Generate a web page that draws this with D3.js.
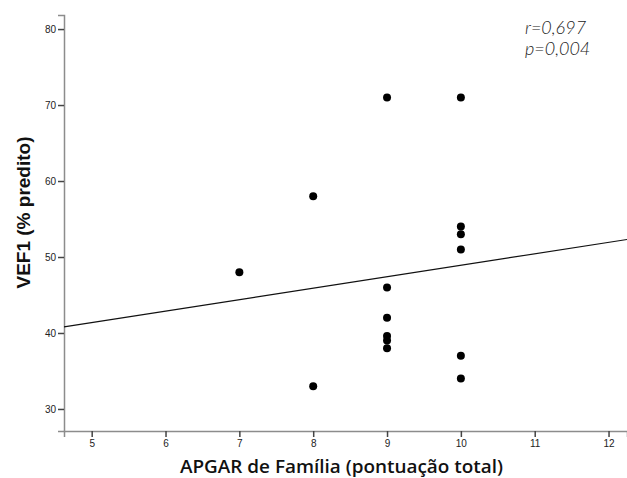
<!DOCTYPE html>
<html>
<head>
<meta charset="utf-8">
<script src="https://cdn.jsdelivr.net/npm/d3@7"></script>
<style>
  body { margin: 0; background: #fff; }
  .tick text { font-family: "Liberation Sans", Arial, sans-serif; font-size: 10px; fill: #222; }
</style>
</head>
<body>
<svg width="627" height="478"></svg>
<script>
let svg = d3.select("svg"),
    width = +svg.attr("width"),
    height = +svg.attr("height");

// APGAR score vs VEF1 (% predito)
let apgar = [7, 8, 8, 9, 9, 9, 9, 9, 9, 10, 10, 10, 10, 10, 10];
let vef1  = [48, 58, 33, 71, 46, 42, 39.6, 39, 38, 71, 54, 53, 51, 37, 34];
let xTicks = [5, 6, 7, 8, 9, 10, 11, 12];
let yTicks = [30, 40, 50, 60, 70, 80];
// fitted line (intercept, slope)
let fit = [33.83, 1.508];
let stats = ["r=0,697", "p=0,004"];

let x = d3.scaleLinear().domain([4.625, 12.25]).range([64, 627]);
let y = d3.scaleLinear().domain([27.1, 81.85]).range([431, 15]);

let axisColor = "#8c8c8c";

//Y axis
let yAxis = svg.append("g")
    .attr("transform", "translate(64,0)")
    .call(d3.axisLeft(y).tickValues(yTicks).tickSize(6).tickPadding(2));
yAxis.select(".domain").attr("stroke", axisColor).attr("stroke-width", 1.5);
yAxis.selectAll(".tick line").attr("stroke", "#444").attr("stroke-width", 1.5);

//X axis
let xAxis = svg.append("g")
    .attr("transform", "translate(0,431)")
    .call(d3.axisBottom(x).tickValues(xTicks).tickSize(6).tickPadding(3));
xAxis.select(".domain").attr("stroke", axisColor).attr("stroke-width", 1.5);
xAxis.selectAll(".tick line").attr("stroke", "#444").attr("stroke-width", 1.5);

//Regression line
let xd = x.domain();
svg.append("line")
    .attr("x1", x(xd[0])).attr("y1", y(fit[0] + fit[1] * xd[0]))
    .attr("x2", x(xd[1])).attr("y2", y(fit[0] + fit[1] * xd[1]))
    .attr("stroke", "#111")
    .attr("stroke-width", 1.2);

//Points
svg.append("g")
    .selectAll("circle")
    .data(apgar).enter().append("circle")
        .attr("cx", d => x(d))
        .attr("cy", (d, i) => y(vef1[i]))
        .attr("r", 4)
        .attr("fill", "#000");

//Stats
svg.append("g")
    .selectAll("text")
    .data(stats).enter().append("text")
        .attr("x", 525)
        .attr("y", (d, i) => 34 + i * 21)
        .attr("font-family", "Lato, 'Open Sans', sans-serif")
        .attr("font-weight", 300)
        .attr("font-style", "italic")
        .attr("font-size", 18)
        .attr("fill", "#222")
        .text(d => d);

//Axis titles
svg.append("text")
    .attr("transform", "translate(30,212.5) rotate(-90)")
    .attr("text-anchor", "middle")
    .attr("font-family", "'Liberation Sans', Arial, sans-serif")
    .attr("font-weight", "bold")
    .attr("font-size", 19)
    .attr("fill", "#111")
    .text("VEF1 (% predito)");

svg.append("text")
    .attr("x", 341.5)
    .attr("y", 473)
    .attr("text-anchor", "middle")
    .attr("font-family", "'Open Sans', sans-serif")
    .attr("font-weight", 600)
    .attr("font-size", 18)
    .attr("textLength", 323)
    .attr("lengthAdjust", "spacingAndGlyphs")
    .attr("fill", "#111")
    .text("APGAR de Família (pontuação total)");
</script>
</body>
</html>
